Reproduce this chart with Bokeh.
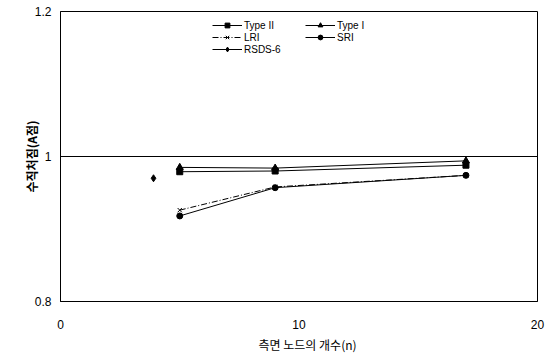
from bokeh.plotting import figure
from bokeh.models import Range1d, FixedTicker, Legend, LegendItem, Title
from bokeh.embed import file_html
from bokeh.resources import INLINE

# data
x_nodes = [5, 9, 17]
type2 = [0.979, 0.980, 0.988]
type1 = [0.985, 0.984, 0.994]
lri = [0.926, 0.958, 0.974]
sri = [0.918, 0.957, 0.974]
rsds_x = [3.9]
rsds_y = [0.970]
x_ticks = [0, 10, 20]
y_ticks = [0.8, 1.0, 1.2]
x_title = "측면 노드의 개수(n)"
y_title = "수직처짐(A점)"

p = figure(width=549, height=356, output_backend="svg", toolbar_location=None,
           x_range=Range1d(0, 20), y_range=Range1d(0.8, 1.2),
           min_border_left=60, min_border_right=12, min_border_top=11, min_border_bottom=20)
p.frame_width = 477
p.frame_height = 290
p.outline_line_color = "black"
p.outline_line_width = 1
p.background_fill_color = "white"
p.border_fill_color = "white"

p.xgrid.visible = False
p.ygrid.ticker = FixedTicker(ticks=[1.0])
p.ygrid.grid_line_color = "black"
p.ygrid.grid_line_width = 1

p.xaxis.ticker = FixedTicker(ticks=x_ticks)
p.yaxis.ticker = FixedTicker(ticks=y_ticks)
p.yaxis.major_label_overrides = {0.8: "0.8", 1.0: "1", 1.2: "1.2"}
for ax in (p.xaxis, p.yaxis):
    ax.axis_line_color = "black"
    ax.major_tick_in = 0
    ax.major_tick_out = 0
    ax.minor_tick_in = 0
    ax.minor_tick_out = 0
    ax.major_label_text_font = "Liberation Sans"
    ax.major_label_text_font_size = "12px"
    ax.major_label_text_color = "black"
    ax.axis_label_text_font = "Noto Sans CJK KR"
    ax.axis_label_text_font_size = "12px"
    ax.axis_label_text_font_style = "normal"
    ax.axis_label_text_color = "black"
p.xaxis.major_label_standoff = 18
p.yaxis.major_label_standoff = 9
p.yaxis.axis_label = y_title
p.yaxis.axis_label_standoff = -8
p.yaxis.axis_label_text_font_style = "bold"

p.add_layout(Title(text=x_title, align="left", offset=198, standoff=4,
                   text_font="Noto Sans CJK KR", text_font_size="12px",
                   text_font_style="normal", text_color="black"), "below")

lw = 1
r_t2l = p.line(x_nodes, type2, line_color="black", line_width=lw)
r_t2m = p.scatter(x_nodes, type2, marker="square", size=6, color="black")
r_t1l = p.line(x_nodes, type1, line_color="black", line_width=lw)
r_t1m = p.scatter(x_nodes, type1, marker="triangle", size=7, color="black")
r_lril = p.line(x_nodes, lri, line_color="black", line_width=lw, line_dash="6 2 1 2")
r_lrim = p.scatter(x_nodes, lri, marker="x", size=6, color="black", line_width=1)
r_sril = p.line(x_nodes, sri, line_color="black", line_width=lw)
r_srim = p.scatter(x_nodes, sri, marker="circle", size=6, color="black")
r_rsl = p.line(rsds_x, rsds_y, line_color="black", line_width=lw)
r_rsm = p.scatter(rsds_x, rsds_y, marker="diamond", size=7, color="black")

def mk_legend(items, loc):
    lg = Legend(items=items, location=loc, border_line_color=None,
                background_fill_alpha=0, padding=0, margin=0, spacing=0,
                label_height=12, glyph_height=12, glyph_width=30,
                label_standoff=2, label_text_font="Liberation Sans",
                label_text_font_size="10px", label_text_color="black")
    p.add_layout(lg, "center")
    return lg

mk_legend([LegendItem(label="Type II", renderers=[r_t2l, r_t2m]),
           LegendItem(label="LRI", renderers=[r_lril, r_lrim]),
           LegendItem(label="RSDS-6", renderers=[r_rsl, r_rsm])], (152, 246))
mk_legend([LegendItem(label="Type I", renderers=[r_t1l, r_t1m]),
           LegendItem(label="SRI", renderers=[r_sril, r_srim])], (245, 258))

open("out.html", "w").write(file_html(p, INLINE))
